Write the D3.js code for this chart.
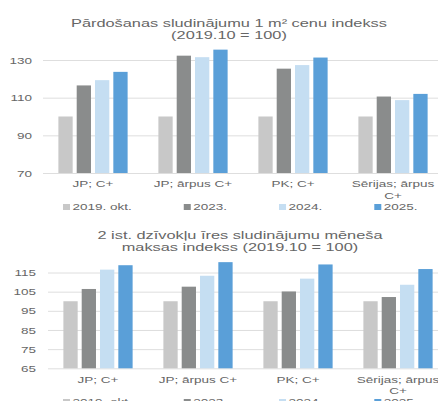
<!DOCTYPE html>
<html>
<head>
<meta charset="utf-8">
<script src="https://cdn.jsdelivr.net/npm/d3@7"></script>
<style>
  body { margin: 0; background: #fff; }
  svg text { font-family: "Liberation Sans", Arial, sans-serif; fill: #666; }
</style>
</head>
<body>
<div id="chart"></div>
<script>
// data
var categories = ['JP; C+', 'JP; ārpus C+', 'PK; C+', 'Sērijas; ārpus C+'];
var seriesNames = ['2019. okt.', '2023.', '2024.', '2025.'];
var seriesColors = ['#c8c8c8', '#8a8c8c', '#c5def2', '#5a9fd8'];

var saleTitle = ['Pārdošanas sludinājumu 1 m² cenu indekss', '(2019.10 = 100)'];
var saleTicks = [70, 90, 110, 130];
var sale2019 = [100, 100, 100, 100];
var sale2023 = [116.5, 132.3, 125.4, 110.6];
var sale2024 = [119.3, 131.5, 127.3, 108.7];
var sale2025 = [123.7, 135.5, 131.3, 112];

var rentTitle = ['2 ist. dzīvokļu īres sludinājumu mēneša', 'maksas indekss (2019.10 = 100)'];
var rentTicks = [65, 75, 85, 95, 105, 115];
var rent2019 = [100, 100, 100, 100];
var rent2023 = [106.4, 107.6, 105.1, 102.2];
var rent2024 = [116.5, 113.3, 111.8, 108.6];
var rent2025 = [118.8, 120.4, 119.2, 116.8];

var W = 438, H = 401;
var SX = 1.42; // the source text looks horizontally stretched

var svg = d3.select('#chart').append('svg')
    .attr('width', W)
    .attr('height', H);

function stretch(sel) {
  sel.each(function() {
    var len = this.getComputedTextLength();
    d3.select(this)
        .attr('textLength', len * SX)
        .attr('lengthAdjust', 'spacingAndGlyphs');
  });
}

function drawPanel(opt) {
  var g = svg.append('g');

  var x0 = d3.scaleBand()
      .domain(categories)
      .range([opt.left, opt.left + 400]);
  var x1 = d3.scaleBand()
      .domain(seriesNames)
      .range([0, x0.bandwidth()])
      .paddingInner(0.22)
      .paddingOuter(0.84);
  var y = d3.scaleLinear()
      .domain(opt.domain)
      .range(opt.yRange);

  // title
  g.selectAll('.title')
    .data(opt.title)
    .enter().append('text')
      .attr('class', 'title')
      .attr('x', opt.titleX)
      .attr('y', (d, i) => opt.titleY + i * 12)
      .attr('text-anchor', 'middle')
      .attr('dy', '0.35em')
      .style('font-size', '11.5px')
      .text(d => d)
      .call(stretch);

  // gridlines
  g.append('g')
      .attr('transform', 'translate(' + opt.left + ',0)')
      .call(d3.axisLeft(y).tickValues(opt.ticks).tickSize(-(W - opt.left)).tickFormat(''))
      .call(a => a.select('.domain').remove())
      .call(a => a.selectAll('line').attr('stroke', '#dedede'));

  // tick labels
  g.append('g')
      .attr('transform', 'translate(' + opt.labelX + ',0)')
      .call(d3.axisLeft(y).tickValues(opt.ticks).tickSize(0).tickPadding(0))
      .call(a => a.select('.domain').remove())
      .call(a => a.selectAll('text').style('font-size', '9.5px').attr('fill', '#666').call(stretch));

  // bars
  var rows = categories.map((c, i) => ({
    cat: c,
    vals: opt.series.map((s, k) => ({ name: seriesNames[k], v: s[i] }))
  }));

  var grp = g.selectAll('.grp')
    .data(rows)
    .enter().append('g')
      .attr('class', 'grp')
      .attr('transform', d => 'translate(' + x0(d.cat) + ',0)');

  grp.selectAll('rect')
    .data(d => d.vals)
    .enter().append('rect')
      .attr('x', d => x1(d.name))
      .attr('width', x1.bandwidth())
      .attr('y', d => y(d.v))
      .attr('height', d => y(opt.domain[0]) - y(d.v))
      .attr('fill', (d, k) => seriesColors[k]);

  // category labels, wrapped to the band width
  var base = y(opt.domain[0]);
  categories.forEach(function(c) {
    var words = c.split(' ');
    var lines = [], line = [];
    var probe = g.append('text').style('font-size', '9.5px');
    words.forEach(function(w) {
      var test = line.concat(w).join(' ');
      probe.text(test);
      if (line.length && probe.node().getComputedTextLength() * SX > x0.bandwidth() - 4) {
        lines.push(line.join(' '));
        line = [w];
      } else {
        line.push(w);
      }
    });
    lines.push(line.join(' '));
    probe.remove();
    lines.forEach(function(l, i) {
      g.append('text')
          .attr('x', x0(c) + x0.bandwidth() / 2)
          .attr('y', base + 11 + i * 11.5)
          .attr('text-anchor', 'middle')
          .attr('dy', '0.35em')
          .style('font-size', '9.5px')
          .text(l)
          .call(stretch);
    });
  });

  // legend
  var lx = 63;
  seriesNames.forEach(function(s, k) {
    g.append('rect')
        .attr('x', lx)
        .attr('y', opt.legendY - 3)
        .attr('width', 7)
        .attr('height', 6)
        .attr('fill', seriesColors[k]);
    var t = g.append('text')
        .attr('x', lx + 9.5)
        .attr('y', opt.legendY)
        .attr('dy', '0.35em')
        .style('font-size', '9.5px')
        .text(s);
    var w = t.node().getComputedTextLength() * SX;
    t.attr('textLength', w).attr('lengthAdjust', 'spacingAndGlyphs');
    lx += 9.5 + w + 52;
  });
}

drawPanel({
  title: saleTitle,
  titleX: 229,
  titleY: 23,
  ticks: saleTicks,
  domain: [70, 130],
  yRange: [173, 60],
  left: 43,
  labelX: 32,
  series: [sale2019, sale2023, sale2024, sale2025],
  legendY: 207
});

drawPanel({
  title: rentTitle,
  titleX: 240,
  titleY: 235,
  ticks: rentTicks,
  domain: [65, 115],
  yRange: [368.3, 272.5],
  left: 48,
  labelX: 36,
  series: [rent2019, rent2023, rent2024, rent2025],
  legendY: 402
});
</script>
</body>
</html>
